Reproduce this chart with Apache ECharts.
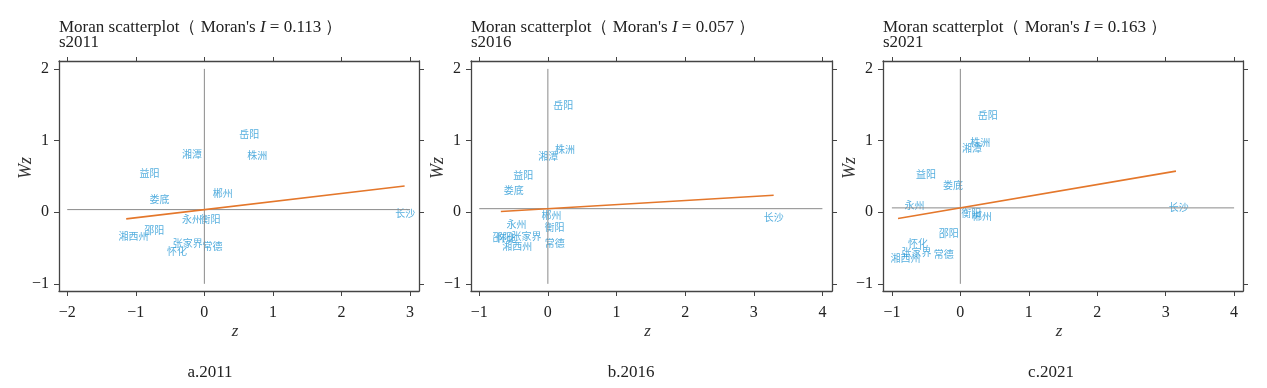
<!DOCTYPE html>
<html><head><meta charset="utf-8">
<script src="https://cdn.jsdelivr.net/npm/echarts@6/dist/echarts.min.js"></script>
<style>html,body{margin:0;padding:0;background:#fff}#c{width:1267px;height:388px}</style>
</head><body><div id="c"></div>
<script>
// ---- data ----
const cities = ['长沙','株洲','湘潭','衡阳','邵阳','岳阳','常德','张家界','益阳','郴州','永州','怀化','娄底','湘西州'];
const z2011  = [2.93, 0.77, -0.18, 0.09, -0.73, 0.656, 0.12, -0.243, -0.80, 0.267, -0.18, -0.40, -0.656, -1.035];
const wz2011 = [-0.02, 0.80, 0.815, -0.097, -0.25, 1.093, -0.47, -0.435, 0.55, 0.26, -0.097, -0.55, 0.176, -0.333];
const z2016  = [3.29, 0.248, 0.005, 0.097, -0.66, 0.223, 0.10, -0.31, -0.36, 0.054, -0.456, -0.60, -0.496, -0.447];
const wz2016 = [-0.07, 0.875, 0.787, -0.208, -0.35, 1.496, -0.435, -0.33, 0.514, -0.037, -0.167, -0.36, 0.30, -0.48];
const z2021  = [3.19, 0.29, 0.17, 0.16, -0.17, 0.40, -0.243, -0.64, -0.50, 0.316, -0.67, -0.617, -0.107, -0.80];
const wz2021 = [0.07, 0.97, 0.893, -0.02, -0.29, 1.357, -0.59, -0.56, 0.53, -0.056, 0.10, -0.43, 0.375, -0.64];
const years = ['2011', '2016', '2021'];
const captions = ['a.2011', 'b.2016', 'c.2021'];
const moranI = ['0.113', '0.057', '0.163'];
const slope = [0.113, 0.057, 0.163];
const intercept = [0.036, 0.049, 0.060];   // mean of Wz
const fitRange = [[-1.14, 2.92], [-0.685, 3.29], [-0.91, 3.15]];
const xTicks = [[-2, -1, 0, 1, 2, 3], [-1, 0, 1, 2, 3, 4], [-1, 0, 1, 2, 3, 4]];
const yTicks = [-1, 0, 1, 2];
const xMin = [-2.12, -1.12, -1.13], xMax = [3.13, 4.14, 4.13];
const yMin = -1.1, yMax = 2.11;

const zs = [z2011, z2016, z2021], wzs = [wz2011, wz2016, wz2021];
// ---- layout ----
const gridLeft = [59, 471, 883], gridRight = [419, 832, 1243];
const gTop = 61, gBottom = 291;
const serif = '"Liberation Serif","DejaVu Serif",serif';
const frame = '#444';
const fmt = v => String(v).replace('-', '\u2212');

const grid = [], xAxis = [], yAxis = [], series = [], title = [], graphic = [];
for (let p = 0; p < 3; p++) {
  grid.push({left: gridLeft[p], width: gridRight[p] - gridLeft[p], top: gTop, height: gBottom - gTop});
  const xBase = {gridIndex: p, type: 'value', min: xMin[p], max: xMax[p], splitLine: {show: false},
    axisLine: {onZero: false, lineStyle: {color: frame, width: 1.3}}};
  xAxis.push(Object.assign({}, xBase, {position: 'bottom',
    axisTick: {show: true, length: 5, customValues: xTicks[p], lineStyle: {color: frame}},
    axisLabel: {customValues: xTicks[p], formatter: fmt, fontFamily: serif, fontSize: 16, color: '#222', margin: 14}}));
  xAxis.push(Object.assign({}, xBase, {position: 'top',
    axisTick: {show: true, length: 4, customValues: xTicks[p], lineStyle: {color: frame}},
    axisLabel: {show: false}}));
  const yBase = {gridIndex: p, type: 'value', min: yMin, max: yMax, splitLine: {show: false},
    axisLine: {onZero: false, lineStyle: {color: frame, width: 1.3}}};
  yAxis.push(Object.assign({}, yBase, {position: 'left',
    axisTick: {show: true, length: 5, customValues: yTicks, lineStyle: {color: frame}},
    axisLabel: {customValues: yTicks, formatter: fmt, fontFamily: serif, fontSize: 16, color: '#222', margin: 10}}));
  yAxis.push(Object.assign({}, yBase, {position: 'right',
    axisTick: {show: true, length: 5, customValues: yTicks, lineStyle: {color: frame}},
    axisLabel: {show: false}}));

  const xi = p * 2, yi = p * 2;
  const xt = xTicks[p];
  // reference lines
  series.push({type: 'line', xAxisIndex: xi, yAxisIndex: yi, symbol: 'none', silent: true,
    lineStyle: {color: '#8a8a8a', width: 1}, data: [[xt[0], intercept[p]], [xt[xt.length - 1], intercept[p]]]});
  series.push({type: 'line', xAxisIndex: xi, yAxisIndex: yi, symbol: 'none', silent: true,
    lineStyle: {color: '#8a8a8a', width: 1}, data: [[0, yTicks[0]], [0, yTicks[yTicks.length - 1]]]});
  // fitted line
  series.push({type: 'line', xAxisIndex: xi, yAxisIndex: yi, symbol: 'none', silent: true,
    lineStyle: {color: '#e4772b', width: 1.6},
    data: fitRange[p].map(z => [z, intercept[p] + slope[p] * z])});
  // city labels
  series.push({type: 'scatter', xAxisIndex: xi, yAxisIndex: yi, symbolSize: 1, silent: true,
    itemStyle: {color: 'rgba(0,0,0,0)'},
    label: {show: true, position: 'inside', formatter: d => d.name, color: '#2a9ad6',
      fontFamily: '"Noto Sans CJK SC"', fontSize: 10},
    data: cities.map((c, i) => ({name: c, value: [zs[p][i], wzs[p][i]]}))});

  title.push({left: gridLeft[p], top: 20, padding: 0,
    text: 'Moran scatterplot\uff08 Moran\'s {i|I} = ' + moranI[p] + ' \uff09\ns' + years[p],
    textStyle: {fontFamily: serif, fontSize: 17, fontWeight: 'normal', color: '#222', lineHeight: 15,
      rich: {i: {fontFamily: serif, fontStyle: 'italic', fontSize: 17, color: '#222', lineHeight: 15}}}});

  const cx = (gridLeft[p] + gridRight[p]) / 2;
  graphic.push({type: 'text', x: cx - 4, y: 332, style: {text: 'z', font: 'italic 17px ' + serif, fill: '#333', align: 'center', verticalAlign: 'middle'}});
  graphic.push({type: 'text', x: gridLeft[p] - 33, y: 168, rotation: Math.PI / 2,
    style: {text: 'Wz', font: 'italic 18px ' + serif, fill: '#333', align: 'center', verticalAlign: 'middle'}});
  graphic.push({type: 'text', x: [210, 631, 1051][p], y: 373, style: {text: captions[p], font: '17px ' + serif, fill: '#222', align: 'center', verticalAlign: 'middle'}});
}

const chart = echarts.init(document.getElementById('c'));
chart.setOption({animation: false, title, grid, xAxis, yAxis, series, graphic});
</script></body></html>
